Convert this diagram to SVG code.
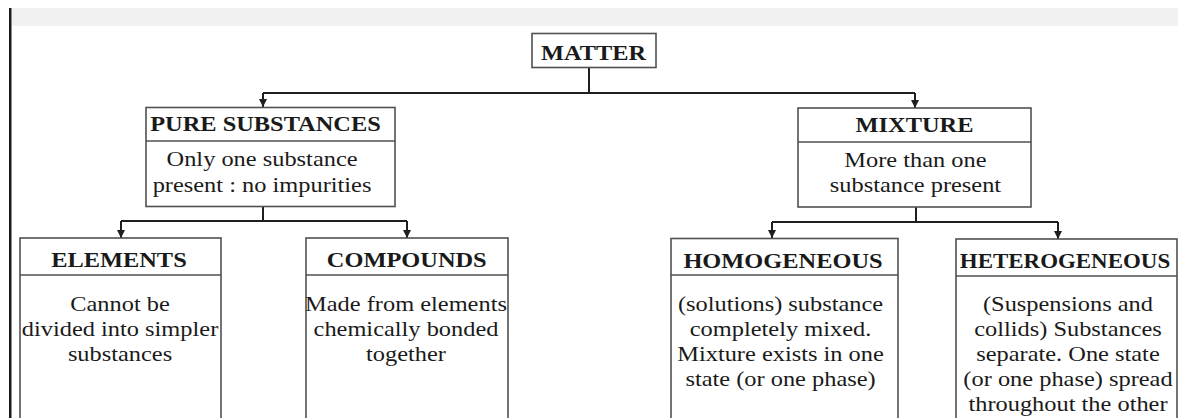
<svg xmlns="http://www.w3.org/2000/svg" width="1178" height="418" viewBox="0 0 1178 418">
<style>
.box{fill:#fff;stroke:#505050;stroke-width:1.6}
.div{stroke:#505050;stroke-width:1.6;fill:none}
.con{stroke:#1e1e1e;stroke-width:2;fill:none}
.t{font-family:"Liberation Serif","Times New Roman",serif;font-size:20px;fill:#1a1a1a;text-anchor:middle;transform-box:view-box;transform-origin:0 0;transform:scale(1.22,1)}
.h{font-weight:bold}
.n{transform:scale(1.148,1)}
</style>
<defs>
<marker id="arr" viewBox="0 0 10 10" refX="10" refY="5" markerWidth="4" markerHeight="4" orient="auto" markerUnits="strokeWidth">
<path d="M0,0 L10,5 L0,10 z" fill="#1e1e1e"/>
</marker>
</defs>
<rect x="12" y="8" width="1166" height="18" fill="#f1f1f1"/>
<rect x="9" y="8" width="2.5" height="410" fill="#1a1a1a"/>
<g id="connectors">
<path class="con" d="M589,67 V93"/>
<path class="con" d="M263,93 H915"/>
<path class="con" d="M263,93 V107" marker-end="url(#arr)"/>
<path class="con" d="M915,93 V108" marker-end="url(#arr)"/>
<path class="con" d="M263,206 V221"/>
<path class="con" d="M121,221 H407"/>
<path class="con" d="M121,221 V238" marker-end="url(#arr)"/>
<path class="con" d="M407,221 V238" marker-end="url(#arr)"/>
<path class="con" d="M916,207 V222"/>
<path class="con" d="M772,222 H1058"/>
<path class="con" d="M772,222 V238" marker-end="url(#arr)"/>
<path class="con" d="M1058,222 V239" marker-end="url(#arr)"/>
</g>
<g id="matter">
<rect class="box" x="532" y="33.5" width="124" height="34"/>
<text class="t h" x="486.5" y="60">MATTER</text>
</g>
<g id="pure-substances">
<rect class="box" x="146" y="107.5" width="249" height="99"/>
<path class="div" d="M146,141 H395"/>
<text class="t h" x="217.6" y="131">PURE SUBSTANCES</text>
<text class="t" x="214.8" y="166.5">Only one substance</text>
<text class="t" x="214.8" y="192">present : no impurities</text>
</g>
<g id="mixture">
<rect class="box" x="798" y="108" width="233" height="99"/>
<path class="div" d="M798,142 H1031"/>
<text class="t h" x="749.6" y="132">MIXTURE</text>
<text class="t" x="750.4" y="167">More than one</text>
<text class="t" x="750.4" y="192.5">substance present</text>
</g>
<g id="elements">
<rect class="box" x="20" y="238" width="201" height="200"/>
<path class="div" d="M20,275 H221"/>
<text class="t h" x="97.5" y="267">ELEMENTS</text>
<text class="t" x="98.4" y="311.5">Cannot be</text>
<text class="t" x="98.4" y="336.5">divided into simpler</text>
<text class="t" x="98.4" y="361.5">substances</text>
</g>
<g id="compounds">
<rect class="box" x="306" y="238" width="202" height="200"/>
<path class="div" d="M306,275 H508"/>
<text class="t h" x="333.4" y="267">COMPOUNDS</text>
<text class="t" x="332.8" y="311.5">Made from elements</text>
<text class="t" x="332.8" y="336.5">chemically bonded</text>
<text class="t" x="332.8" y="361.5">together</text>
</g>
<g id="homogeneous">
<rect class="box" x="671" y="238.5" width="227" height="200"/>
<path class="div" d="M671,275 H898"/>
<text class="t h" x="641.8" y="268">HOMOGENEOUS</text>
<text class="t" x="639.8" y="311.5">(solutions) substance</text>
<text class="t" x="639.8" y="336.5">completely mixed.</text>
<text class="t" x="639.8" y="361.5">Mixture exists in one</text>
<text class="t" x="639.8" y="386.5">state (or one phase)</text>
</g>
<g id="heterogeneous">
<rect class="box" x="956" y="239" width="221" height="200"/>
<path class="div" d="M956,276 H1177"/>
<text class="t h n" x="927.7" y="268">HETEROGENEOUS</text>
<text class="t" x="875.4" y="311.5">(Suspensions and</text>
<text class="t" x="875.4" y="336.5">collids) Substances</text>
<text class="t" x="875.4" y="361.5">separate. One state</text>
<text class="t" x="875.4" y="386.5">(or one phase) spread</text>
<text class="t" x="875.4" y="411.5">throughout the other</text>
</g>
</svg>
